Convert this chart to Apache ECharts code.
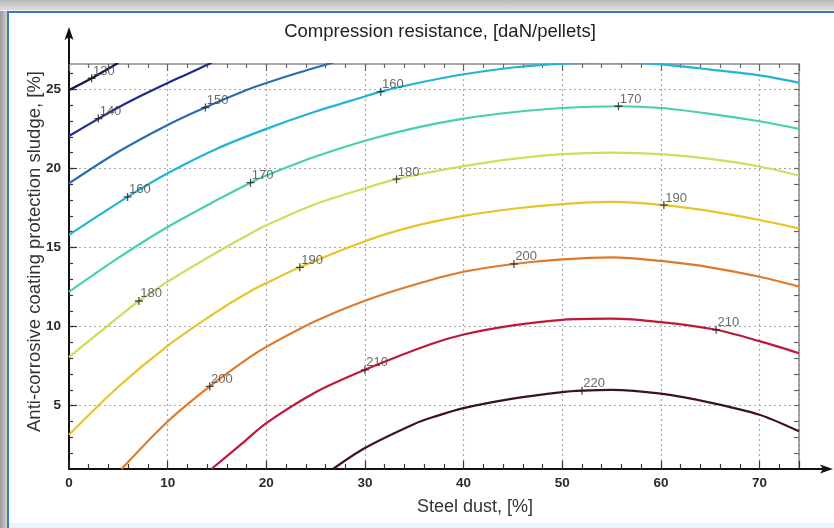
<!DOCTYPE html>
<html>
<head>
<meta charset="utf-8">
<title>Compression resistance</title>
<script src="https://cdn.jsdelivr.net/npm/echarts@6/dist/echarts.min.js"></script>
<style>
  html, body { margin: 0; padding: 0; width: 834px; height: 528px; overflow: hidden; background: #fff; }
  #frame { position: absolute; left: 0; top: 0; width: 834px; height: 528px;
    background: linear-gradient(to bottom, #b9b9b9 0px, #dedede 10px, #fff 11px); }
  #panel { position: absolute; left: 7px; top: 11px; right: 0; bottom: 0; background: #fff;
    border-left: 2px solid #3a78c2; border-top: 2px solid #3a78c2; }
  #panel::after { content: ''; position: absolute; left: 0; right: 0; bottom: 0; height: 5px; background: #e4f6fb; }
  #side { position: absolute; left: 0; top: 11px; width: 7px; bottom: 0; background: linear-gradient(to right, #9a9a9a, #d0d0d0); }
  #chart { position: absolute; left: 0; top: 0; width: 834px; height: 528px; }
</style>
</head>
<body>
<div id="frame"><div id="side"></div><div id="panel"></div></div>
<div id="chart"></div>
<script>
// 等值线数据 [钢粉 %, 防腐涂层污泥 %]
const levels = [130, 140, 150, 160, 170, 180, 190, 200, 210, 220]
const line130 = [[0, 24.95], [2.3, 25.7], [4.8, 26.6], [5.0, 26.67]]
const line140 = [[0, 22.05], [3, 23.15], [5, 23.85], [7.5, 24.65], [10, 25.4], [12, 25.97], [14, 26.55], [14.5, 26.7]]
const line150 = [[0, 19.05], [5, 21.05], [10, 22.75], [13.8, 23.85], [18, 24.95], [20, 25.4], [23, 26.0], [26, 26.55], [26.8, 26.7]]
const line160 = [[0, 15.8], [5.94, 18.2], [10, 19.7], [15, 21.25], [20, 22.5], [25, 23.6], [30, 24.55], [31.6, 24.85], [35, 25.35], [40, 25.95], [45, 26.38], [50, 26.62], [55, 26.7], [60, 26.58], [65, 26.25], [70, 25.88], [74, 25.42]]
const line170 = [[0, 12.2], [5, 14.35], [10, 16.3], [15, 18.0], [18.4, 19.1], [20, 19.55], [25, 20.75], [30, 21.75], [35, 22.55], [40, 23.15], [45, 23.55], [50, 23.82], [55.7, 23.93], [60, 23.82], [65, 23.45], [70, 22.98], [74, 22.5]]
const line180 = [[0, 8.07], [5, 10.6], [7.09, 11.62], [10, 12.84], [15, 14.7], [17.8, 15.68], [20, 16.4], [25, 17.75], [30, 18.75], [33.2, 19.32], [36.5, 19.75], [40, 20.15], [45, 20.6], [50, 20.9], [55, 21.0], [60, 20.9], [65, 20.6], [70, 20.12], [74, 19.55]]
const line190 = [[0, 3.17], [5, 6.2], [10, 8.79], [15, 10.95], [18.3, 12.2], [20, 12.75], [23.4, 13.75], [30, 15.4], [35, 16.35], [40, 17.0], [45, 17.45], [50, 17.74], [55, 17.88], [60.3, 17.68], [65, 17.3], [70, 16.74], [74, 16.21]]
const line200 = [[5.33, 1.0], [10, 4.0], [14.27, 6.22], [18.3, 8.05], [20, 8.72], [25, 10.35], [30, 11.64], [35, 12.65], [40, 13.47], [45.1, 13.96], [50, 14.25], [55, 14.38], [60, 14.15], [65, 13.75], [70, 13.15], [74, 12.53]]
const line210 = [[14.44, 1.0], [17.8, 2.75], [20, 3.9], [25, 5.85], [30, 7.27], [36.5, 8.85], [40, 9.5], [45, 10.08], [50, 10.43], [55, 10.5], [60, 10.28], [65.6, 9.8], [70, 9.08], [74, 8.32]]
const line220 = [[26.75, 1.0], [30, 2.33], [35, 3.85], [37, 4.3], [40, 4.85], [45, 5.45], [50, 5.86], [52, 5.95], [55, 6.0], [60, 5.76], [65, 5.2], [70, 4.43], [74, 3.38]]
const contourLines = [line130, line140, line150, line160, line170, line180, line190, line200, line210, line220]
const lineColors = ['#16144c', '#232a8e', '#2b6db3', '#22b4d6', '#48cfb2', '#c4e25e', '#e6c42c', '#df7a2a', '#c0183a', '#3e1416']

// 等值线标注 [x, y, 数值]
const labelPoints = [
  [2.3, 25.7, 130], [2.97, 23.15, 140], [13.83, 23.85, 150],
  [5.94, 18.2, 160], [31.6, 24.85, 160],
  [18.4, 19.1, 170], [55.7, 23.93, 170],
  [7.09, 11.62, 180], [33.2, 19.32, 180],
  [23.4, 13.75, 190], [60.3, 17.68, 190],
  [14.27, 6.22, 200], [45.1, 13.96, 200],
  [30, 7.27, 210], [65.6, 9.8, 210],
  [52, 5.95, 220]
]

// 坐标轴刻度
const xMin = 0
const xMax = 74
const yMin = 1
const yMax = 26.6
const yTickLabels = [5, 10, 15, 20, 25]
const yMinorTicks = []
for (let v = 2; v <= 26; v++) yMinorTicks.push(v)

const titleText = 'Compression resistance, [daN/pellets]'
const xName = 'Steel dust, [%]'
const yName = 'Anti-corrosive coating protection sludge, [%]'

// 绘图区位置
const gridL = 69
const gridT = 64
const gridR = 799
const gridB = 469

const chart = echarts.init(document.getElementById('chart'))

const tickFont = {
  fontFamily: 'Liberation Sans',
  fontWeight: 'bold',
  fontSize: 13.5,
  color: '#2a2a2a'
}

const contourSeries = contourLines.map((pts, i) => ({
  name: String(levels[i]),
  type: 'line',
  data: pts,
  xAxisIndex: 0,
  yAxisIndex: 0,
  smooth: 0.3,
  showSymbol: false,
  lineStyle: { color: lineColors[i], width: 2.2 },
  z: 3
}))

const option = {
  animation: false,
  title: {
    text: titleText,
    left: 440,
    top: 22,
    textAlign: 'center',
    padding: 0,
    textStyle: { fontFamily: 'Liberation Sans', fontWeight: 'normal', fontSize: 18.5, color: '#222' }
  },
  grid: { left: gridL, top: gridT, right: 834 - gridR, bottom: 528 - gridB },
  xAxis: [
    {
      type: 'value',
      min: xMin,
      max: xMax,
      interval: 10,
      position: 'bottom',
      name: xName,
      nameLocation: 'middle',
      nameGap: 29,
      nameMoveOverlap: false,
      nameTextStyle: { fontFamily: 'Liberation Sans', fontSize: 18, color: '#333', padding: [0, 0, 0, 82] },
      axisLine: { lineStyle: { color: '#111', width: 2 } },
      axisTick: { inside: true, length: 8, lineStyle: { color: '#333', width: 1.2 } },
      minorTick: { show: true, splitNumber: 5, length: 5, lineStyle: { color: '#333', width: 1.2 } },
      axisLabel: { ...tickFont, margin: 7, showMaxLabel: false },
      splitLine: { show: true, lineStyle: { type: [2, 3], color: '#a3a8b0', width: 1.2 } }
    },
    {
      type: 'value',
      min: xMin,
      max: xMax,
      interval: 10,
      position: 'top',
      axisLine: { lineStyle: { color: '#8a8a8a', width: 1.5 } },
      axisTick: { inside: true, length: 7, lineStyle: { color: '#666', width: 1.2 } },
      minorTick: { show: true, splitNumber: 5, length: 4, lineStyle: { color: '#666', width: 1.2 } },
      axisLabel: { show: false },
      splitLine: { show: false }
    }
  ],
  yAxis: [
    {
      type: 'value',
      min: yMin,
      max: yMax,
      position: 'left',
      name: yName,
      nameLocation: 'middle',
      nameGap: 25,
      nameMoveOverlap: false,
      nameTextStyle: { fontFamily: 'Liberation Sans', fontSize: 18.5, color: '#333', padding: [0, 0, 0, 30] },
      axisLine: { lineStyle: { color: '#111', width: 2 } },
      axisTick: { inside: true, length: 8, customValues: yTickLabels, lineStyle: { color: '#333', width: 1.2 } },
      axisLabel: { ...tickFont, margin: 8, customValues: yTickLabels },
      splitLine: { show: true, lineStyle: { type: [2, 3], color: '#a3a8b0', width: 1.2 } }
    },
    {
      type: 'value',
      min: yMin,
      max: yMax,
      position: 'left',
      axisLine: { show: false },
      axisTick: { inside: true, length: 4, customValues: yMinorTicks, lineStyle: { color: '#333', width: 1.2 } },
      axisLabel: { show: false },
      splitLine: { show: false }
    },
    {
      type: 'value',
      min: yMin,
      max: yMax,
      position: 'right',
      axisLine: { lineStyle: { color: '#8a8a8a', width: 1.5 } },
      axisTick: { inside: true, length: 5, customValues: yMinorTicks, lineStyle: { color: '#666', width: 1.2 } },
      axisLabel: { show: false },
      splitLine: { show: false }
    }
  ],
  series: [
    ...contourSeries,
    {
      name: 'labels',
      type: 'scatter',
      data: labelPoints,
      xAxisIndex: 0,
      yAxisIndex: 0,
      symbol: 'path://M0,5H10M5,0V10',
      symbolSize: 8,
      itemStyle: { color: 'transparent', borderColor: '#222', borderWidth: 1.3 },
      label: {
        show: true,
        position: [6, -9],
        align: 'left',
        verticalAlign: 'top',
        formatter: (p) => String(p.value[2]),
        fontFamily: 'Liberation Sans',
        fontSize: 13,
        color: '#444'
      },
      z: 5
    }
  ],
  // 坐标轴延伸和箭头
  graphic: [
    {
      type: 'line',
      shape: { x1: gridR, y1: gridB, x2: 826, y2: gridB },
      style: { stroke: '#111', lineWidth: 2 },
      z: 10
    },
    {
      type: 'polygon',
      shape: { points: [[833, gridB], [820, gridB - 4.5], [823, gridB], [820, gridB + 4.5]] },
      style: { fill: '#111' },
      z: 10
    },
    {
      type: 'line',
      shape: { x1: gridL, y1: gridT, x2: gridL, y2: 34 },
      style: { stroke: '#111', lineWidth: 2 },
      z: 10
    },
    {
      type: 'polygon',
      shape: { points: [[gridL, 27], [gridL - 4.5, 40], [gridL, 37], [gridL + 4.5, 40]] },
      style: { fill: '#111' },
      z: 10
    }
  ]
}

chart.setOption(option)
</script>
</body>
</html>
